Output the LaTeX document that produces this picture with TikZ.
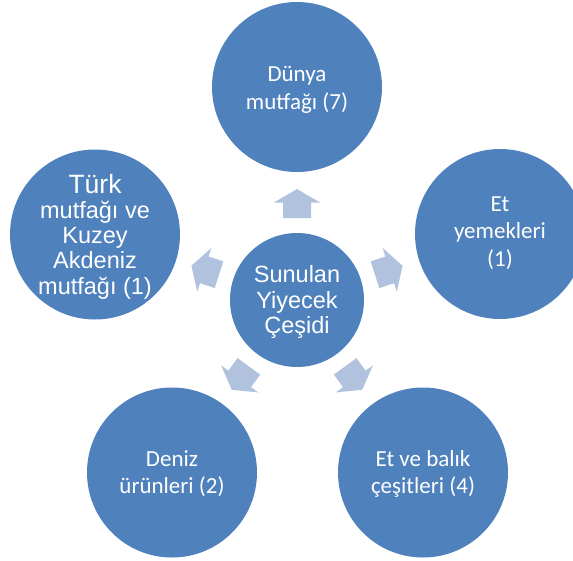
\documentclass[tikz,border=0pt]{standalone}
\usepackage{fontspec}
\newfontfamily\calibrifont{Carlito}
\newfontfamily\arialfont{Liberation Sans}
\definecolor{discblue}{HTML}{4F81BD}
\definecolor{arrowblue}{HTML}{B0C2DE}
\tikzset{
  disc/.style={circle, fill=discblue, draw=none, inner sep=0pt, minimum size=170pt},
  hubdisc/.style={circle, fill=discblue, draw=none, inner sep=0pt, minimum size=134pt},
  % anchor=base of a multi-line node sits on the last line's baseline
  caltext/.style={text=white, align=center, inner sep=0pt, anchor=base,
    font=\calibrifont\fontsize{23}{27.3}\selectfont},
  arialtext/.style={text=white, align=center, inner sep=0pt, anchor=base,
    font=\arialfont\fontsize{23.5}{25.2}\selectfont},
  blockarrow/.style={fill=arrowblue, draw=none}
}
\begin{document}
\begin{tikzpicture}[x=1pt, y=-1pt]
  \useasboundingbox (0,0) rectangle (573,560);
  \clip (0,0) rectangle (573,560);

  % discs
  \node[hubdisc] (hub) at (297,300) {};
  \node[disc] (top) at (297,87) {};
  \node[disc] (right) at (500,234) {};
  \node[disc] (left) at (95,234.5) {};
  \node[disc] (botleft) at (172,472.5) {};
  \node[disc] (botright) at (423,472.5) {};

  % block arrows pointing outward from the hub
  \foreach \ang in {90,18,162,234,306}{
    \begin{scope}[shift={(hub.center)}, rotate=\ang]
      \fill[blockarrow] (82pt,-14pt) -- (97.5pt,-14pt) -- (97.5pt,-23pt) -- (111pt,0pt)
        -- (97.5pt,23pt) -- (97.5pt,14pt) -- (82pt,14pt) -- cycle;
    \end{scope}
  }

  % labels
  \node[arialtext] (hubtext) at (297,333.3) {Sunulan\\Yiyecek\\Çeşidi};
  \node[caltext] (toptext) at (297,109) {Dünya\\mutfağı (7)};
  \node[caltext] (righttext) at (500,266) {Et\\yemekleri\\(1)};
  \node[caltext] (botlefttext) at (172,493.3) {Deniz\\ürünleri (2)};
  \node[caltext] (botrighttext) at (423,493.3) {Et ve balık\\çeşitleri (4)};
  \node[arialtext] (lefttext) at (95,294)
    {{\fontsize{26.5}{25.7}\selectfont Türk}\\mutfağı ve\\Kuzey\\Akdeniz\\mutfağı (1)};
\end{tikzpicture}
\end{document}
